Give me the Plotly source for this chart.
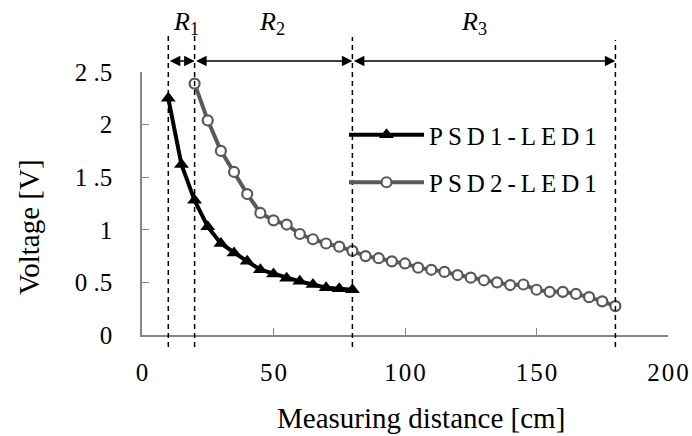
import plotly.graph_objects as go

# ---------------- data ----------------
psd1_x = [10, 15, 20, 25, 30, 35, 40, 45, 50, 55, 60, 65, 70, 75, 80]
psd1_v = [2.25, 1.62, 1.28, 1.03, 0.87, 0.78, 0.70, 0.62, 0.58, 0.54, 0.51, 0.48, 0.45, 0.44, 0.43]

psd2_x = [20, 25, 30, 35, 40, 45, 50, 55, 60, 65, 70, 75, 80, 85, 90, 95, 100,
          105, 110, 115, 120, 125, 130, 135, 140, 145, 150, 155, 160, 165, 170, 175, 180]
psd2_v = [2.39, 2.04, 1.75, 1.55, 1.34, 1.16, 1.09, 1.05, 0.96, 0.91, 0.87, 0.84, 0.80,
          0.75, 0.73, 0.70, 0.68, 0.64, 0.62, 0.60, 0.57, 0.545, 0.52, 0.50, 0.475, 0.48,
          0.43, 0.41, 0.41, 0.39, 0.36, 0.32, 0.275]

series_names = ["P\u2009S\u2009D\u20091\u2009-\u2009L\u2009E\u2009D\u20091",
                "P\u2009S\u2009D\u20092\u2009-\u2009L\u2009E\u2009D\u20091"]

x_tickvals = [0, 50, 100, 150, 200]
x_ticktext = ["0", "5\u200a0", "1\u200a0\u200a0", "1\u200a5\u200a0", "2\u200a0\u200a0"]
y_tickvals = [0, 0.5, 1, 1.5, 2, 2.5]
y_ticktext = ["0", "0 .5", "1", "1 .5", "2", "2 .5"]

region_bounds = [10, 20, 80, 180]
region_labels = ["<i>R</i><sub>1</sub>", "<i>R</i><sub>2</sub>", "<i>R</i><sub>3</sub>"]

x_title = "Measuring distance [cm]"
y_title = "Voltage [V]"

# ---------------- figure ----------------
FONT = "Liberation Serif, Times New Roman, serif"
AXIS_GRAY = "#868686"

# plot area target: x 142..668, y 72..335 in the 692x436 window (body margin removed)
W, H = 692, 436
ML, MR, MT, MB = 142, 24, 72, 101
PW = W - ML - MR
PH = H - MT - MB


def px_x(p):  # window pixel -> paper x
    return (p - ML) / PW


def px_y(p):  # window pixel -> paper y
    return (H - MB - p) / PH


fig = go.Figure()
fig.add_trace(go.Scatter(
    x=psd1_x, y=psd1_v, name=series_names[0], mode="lines+markers",
    legendgroup="a",
    line=dict(color="black", width=4),
    marker=dict(symbol="triangle-up", size=13, color="black"),
))
fig.add_trace(go.Scatter(
    x=psd2_x, y=psd2_v, name=series_names[1], mode="lines+markers",
    legendgroup="b",
    line=dict(color="#595959", width=4),
    marker=dict(symbol="circle", size=10, color="white",
                line=dict(color="#595959", width=2.2)),
))

shapes = []
tops = [35, 35, 37, 40]
for b, t in zip(region_bounds, tops):
    shapes.append(dict(type="line", xref="x", yref="paper", x0=b, x1=b,
                       y0=px_y(347), y1=px_y(t),
                       line=dict(color="black", width=1.5, dash="5px,4px")))

label_shift = [5, -2, -10]
annotations = []
for i in range(3):
    a, b = region_bounds[i], region_bounds[i + 1]
    annotations.append(dict(
        x=b, y=px_y(61), xref="x", yref="paper",
        ax=a, ay=0, axref="x", ayref="pixel",
        text="", showarrow=True, arrowside="end+start",
        arrowhead=2, startarrowhead=2, arrowsize=1.5, startarrowsize=1.5,
        arrowwidth=1.4, arrowcolor="black"))
    annotations.append(dict(
        x=(a + b) / 2, y=px_y(23), xref="x", yref="paper",
        xanchor="center", yanchor="middle", xshift=label_shift[i],
        text=region_labels[i], showarrow=False,
        font=dict(family=FONT, size=26, color="black")))

annotations.append(dict(
    x=px_x(421), y=px_y(418), xref="paper", yref="paper",
    xanchor="center", yanchor="middle",
    text=x_title, showarrow=False,
    font=dict(family=FONT, size=29, color="black")))
annotations.append(dict(
    x=px_x(29), y=px_y(227), xref="paper", yref="paper",
    xanchor="center", yanchor="middle",
    text=y_title, showarrow=False, textangle=-90,
    font=dict(family=FONT, size=29, color="black")))

fig.update_layout(
    width=W, height=H,
    margin=dict(l=ML, r=MR, t=MT, b=MB, autoexpand=False),
    paper_bgcolor="white", plot_bgcolor="white",
    font=dict(family=FONT, size=25, color="black"),
    showlegend=True,
    legend=dict(x=px_x(344), y=px_y(112), xanchor="left", yanchor="top",
                bgcolor="rgba(0,0,0,0)", font=dict(family=FONT, size=25, color="black"),
                traceorder="grouped", tracegroupgap=12, itemwidth=75),
    shapes=shapes,
    annotations=annotations,
    xaxis=dict(range=[0, 200], tickmode="array", tickvals=x_tickvals, ticktext=x_ticktext,
               showline=True, linecolor=AXIS_GRAY, linewidth=1.5, automargin=False,
               ticks="inside", ticklen=7, tickwidth=1, tickcolor=AXIS_GRAY,
               showgrid=False, zeroline=False, ticklabelstandoff=14,
               tickfont=dict(family=FONT, size=25, color="black")),
    yaxis=dict(range=[0, 2.5], tickmode="array", tickvals=y_tickvals, ticktext=y_ticktext,
               showline=True, linecolor=AXIS_GRAY, linewidth=1.5, automargin=False,
               ticks="inside", ticklen=7, tickwidth=1, tickcolor=AXIS_GRAY,
               showgrid=False, zeroline=False, ticklabelstandoff=23,
               tickfont=dict(family=FONT, size=25, color="black")),
)

fig.write_html("out.html", config={"displayModeBar": False},
               post_script="document.body.style.margin='0';document.body.style.overflow='hidden';")
